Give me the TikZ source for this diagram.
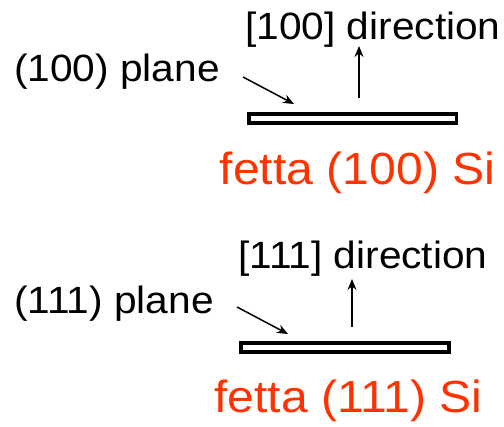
\documentclass[tikz,border=0pt]{standalone}
\usepackage{fontspec}
\setmainfont{Liberation Sans}
\usetikzlibrary{arrows.meta}
\definecolor{wafred}{RGB}{255,51,0}
\newcommand{\lbltext}[1]{\scalebox{1.07}[1]{\fontsize{38}{40}\selectfont #1}}
\newcommand{\captext}[1]{\scalebox{1.07}[1]{\fontsize{45}{48}\selectfont #1}}
\begin{document}
\begin{tikzpicture}[x=1pt,y=-1pt,
  lbl/.style={anchor=base west,inner sep=0pt,text=black},
  wafercap/.style={anchor=base west,inner sep=0pt,text=wafred},
  wafer/.style={draw=black,fill=white,line width=3.6pt,rectangle,inner sep=0pt,
    minimum width=207.6pt,minimum height=9pt},
  pointer/.style={line width=1.5pt,-{Stealth[length=11pt,width=9pt]}}]
\useasboundingbox (0,0) rectangle (504,427);

% ---- (100) wafer ----
\node[lbl] (dir1) at (245,40) {\lbltext{[100] direction}};
\node[lbl] (pl1) at (14,82) {\lbltext{(100) plane}};
\node[wafer] (w1) at (352.5,118.5) {};
\node[wafercap] (c1) at (219.5,185) {\captext{fetta (100) Si}};
\coordinate (p1s) at (243,77);
\coordinate (p1e) at (294,104);
\coordinate (d1s) at (359,98);
\coordinate (d1e) at (359,46);
\draw[pointer] (p1s) -- (p1e);
\draw[pointer] (d1s) -- (d1e);

% ---- (111) wafer ----
\node[lbl] (dir2) at (238,269) {\lbltext{[111] direction}};
\node[lbl] (pl2) at (14,314) {\lbltext{(111) plane}};
\node[wafer] (w2) at (345,347.8) {};
\node[wafercap] (c2) at (214,412.7) {\captext{fetta (111) Si}};
\coordinate (p2s) at (237,307);
\coordinate (p2e) at (288,334);
\coordinate (d2s) at (352,327);
\coordinate (d2e) at (352,279);
\draw[pointer] (p2s) -- (p2e);
\draw[pointer] (d2s) -- (d2e);
\end{tikzpicture}
\end{document}
